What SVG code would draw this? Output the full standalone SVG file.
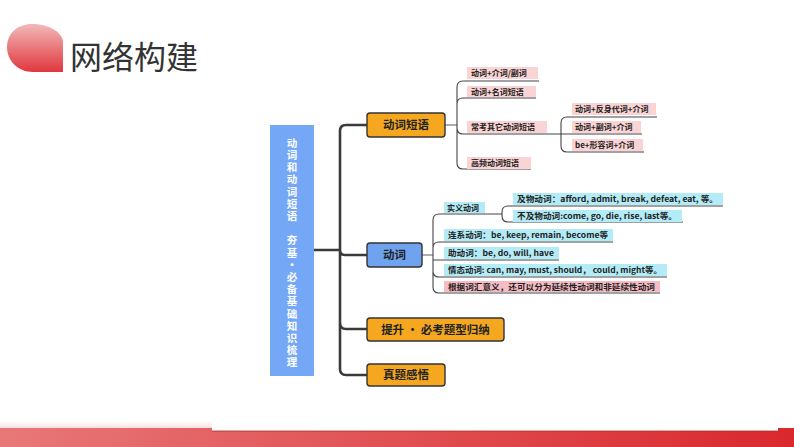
<svg xmlns="http://www.w3.org/2000/svg" width="794" height="447" viewBox="0 0 794 447">
<defs>
<linearGradient id="blob" x1="0" y1="0" x2="0" y2="1"><stop offset="0" stop-color="#f2b9b9"/><stop offset="1" stop-color="#e0373d"/></linearGradient>
<linearGradient id="band" x1="0" y1="0" x2="1" y2="0"><stop offset="0" stop-color="#e87878"/><stop offset="1" stop-color="#d9282e"/></linearGradient>
<linearGradient id="fade" x1="0" y1="0" x2="0" y2="1"><stop offset="0" stop-color="#fdf0f0" stop-opacity="0"/><stop offset="1" stop-color="#f9dede"/></linearGradient>
<style>
.l1{fill:none;stroke:#3a3a3a;stroke-width:2.6}
.l2{fill:none;stroke:#444;stroke-width:1.1}
.lg{fill:none;stroke:#9a9a9a;stroke-width:1.6}
.t{font-family:"Noto Sans CJK SC","Liberation Sans",sans-serif;font-weight:bold}
.s{font-size:8px;fill:#222}
.m{font-size:11.5px;fill:#222}
.org{fill:#f5a81f;stroke:#333;stroke-width:1.4}
.pk{fill:#fad4d4}
.cy{fill:#b3ecf7}
.pk2{fill:#f6bcc4}
.vt{writing-mode:vertical-rl;text-orientation:upright;letter-spacing:1.7px}
</style>
</defs>
<rect width="794" height="447" fill="#fff"/>
<g id="header">
<path d="M63,72 H33 C18,72 7,61 7,47 C7,33 18,24 32,24 C48,24 61,31 63,41 Z" fill="url(#blob)"/>
<text x="70" y="69" font-family="'Noto Sans CJK SC',sans-serif" font-size="32" fill="#333">网络构建</text>
</g>
<g id="footer">
<rect x="0" y="420" width="212" height="8" fill="url(#fade)"/>
<rect x="0" y="428" width="794" height="19" fill="url(#band)"/>
<rect x="212" y="424" width="566" height="7" fill="#fff"/>
<line x1="212" y1="431" x2="778" y2="431" stroke="#a83030" stroke-width="0.8"/>
</g>
<g id="connectors">
<path class="l1" d="M314,250 H340 M340,250 V131 Q340,125 346,125 H367 M340,250 Q340,255 345,255 H367 M340,250 V323 Q340,329 346,329 H367 M340,250 V369 Q340,375 346,375 H367"/>
<path class="lg" d="M445,125 H457"/>
<path class="l2" d="M457,125 V87 Q457,81 463,81 H539 M457,125 V104 Q457,98 463,98 H536 M457,125 V128 Q457,134 463,134 H561 M457,125 V163 Q457,169 463,169 H531"/>
<path class="l2" d="M561,134 V123 Q561,117 567,117 H657 M561,134 H642 M561,134 V146 Q561,152 567,152 H644"/>
<path class="lg" d="M422,255 H433"/>
<path class="l2" d="M433,255 V220 Q433,214 439,214 H502 M433,255 V248 Q433,242 439,242 H613 M433,255 V260 H559 M433,255 V271 Q433,277 439,277 H667 M433,255 V287 Q433,293 439,293 H660"/>
<path class="l2" d="M502,214 V212 Q502,206 508,206 H723 M502,214 V216 Q502,222 508,222 H683"/>
</g>
<g id="root">
<rect x="270" y="125" width="44" height="251" fill="#74a8f6"/>
<text class="t vt" x="292" y="137.5" font-size="10.5" fill="#fff">动词和动词短语　夯基•必备基础知识梳理</text>
</g>
<g id="n-phrase"><rect class="org" x="367" y="113" width="78" height="24" rx="3"/><text class="t m" x="406" y="129" text-anchor="middle">动词短语</text></g>
<g id="n-verb"><rect x="367" y="243" width="55" height="24" rx="3" fill="#6fa3f0" stroke="#333" stroke-width="1.4"/><text class="t m" x="394.5" y="259" text-anchor="middle">动词</text></g>
<g id="n-up"><rect class="org" x="367" y="318" width="137" height="23" rx="3"/><text class="t m" x="435.5" y="333.5" text-anchor="middle">提升 • 必考题型归纳</text></g>
<g id="n-real"><rect class="org" x="367" y="364" width="78" height="22" rx="3"/><text class="t m" x="406" y="379" text-anchor="middle">真题感悟</text></g>
<g id="p1"><rect class="pk" x="467" y="67" width="71" height="12"/><text class="t s" x="471" y="76">动词+介词/副词</text></g>
<g id="p2"><rect class="pk" x="467" y="86" width="69" height="11"/><text class="t s" x="471" y="94.5">动词+名词短语</text></g>
<g id="p3"><rect class="pk" x="467" y="121" width="80" height="12"/><text class="t s" x="471" y="130">常考其它动词短语</text></g>
<g id="p4"><rect class="pk" x="467" y="157" width="64" height="12"/><text class="t s" x="471" y="166">高频动词短语</text></g>
<g id="p3a"><rect class="pk" x="572" y="103" width="84" height="12"/><text class="t s" x="575" y="112">动词+反身代词+介词</text></g>
<g id="p3b"><rect class="pk" x="572" y="121" width="69" height="12"/><text class="t s" x="575" y="130">动词+副词+介词</text></g>
<g id="p3c"><rect class="pk" x="572" y="139" width="71" height="12"/><text class="t s" x="575" y="148">be+形容词+介词</text></g>
<g id="v1"><rect class="cy" x="444" y="202" width="41" height="11"/><text class="t s" x="447" y="210.5">实义动词</text></g>
<g id="v1a"><rect class="cy" x="513" y="193" width="210" height="12"/><text class="t s" x="517" y="202" textLength="201" lengthAdjust="spacingAndGlyphs">及物动词：afford, admit, break, defeat, eat, 等。</text></g>
<g id="v1b"><rect class="cy" x="513" y="210" width="169" height="12"/><text class="t s" x="517" y="219" textLength="160" lengthAdjust="spacingAndGlyphs">不及物动词:come, go, die, rise, last等。</text></g>
<g id="v2"><rect class="cy" x="444" y="229" width="169" height="12"/><text class="t s" x="448" y="238" textLength="160" lengthAdjust="spacingAndGlyphs">连系动词：be, keep, remain, become等</text></g>
<g id="v3"><rect class="cy" x="444" y="247" width="115" height="12"/><text class="t s" x="448" y="256" textLength="106" lengthAdjust="spacingAndGlyphs">助动词：be, do, will, have</text></g>
<g id="v4"><rect class="cy" x="444" y="264" width="223" height="12"/><text class="t s" x="448" y="273" textLength="214" lengthAdjust="spacingAndGlyphs">情态动词: can, may, must, should， could, might等。</text></g>
<g id="v5"><rect class="pk2" x="444" y="281" width="216" height="11"/><text class="t s" x="448" y="290" textLength="207" lengthAdjust="spacingAndGlyphs">根据词汇意义，还可以分为延续性动词和非延续性动词</text></g>
</svg>
